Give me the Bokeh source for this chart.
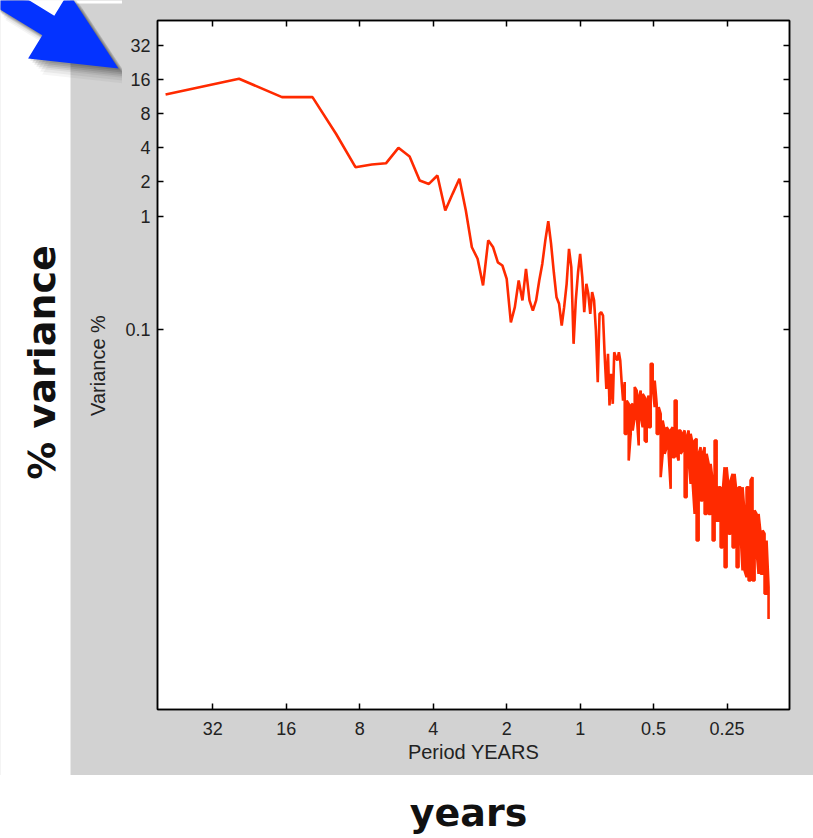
import math
from bokeh.plotting import figure
from bokeh.layouts import row, column
from bokeh.models import Range1d, FixedTicker, LogAxis
from bokeh.core.properties import value
from bokeh.embed import file_html
from bokeh.resources import INLINE

# ---------------- data ----------------
period_low = [50, 25, 16.667, 12.5, 10, 8.333, 7.143, 6.25, 5.556, 5,
              4.545, 4.167, 3.846, 3.571, 3.333, 3.125, 2.941, 2.778, 2.632, 2.5,
              2.381, 2.273, 2.174, 2.083, 2, 1.923, 1.852, 1.786, 1.724, 1.667,
              1.613, 1.5625, 1.515, 1.471, 1.429, 1.389, 1.351, 1.316, 1.282, 1.25,
              1.220, 1.190, 1.163, 1.136, 1.111, 1.087, 1.064, 1.042, 1.020, 1.0,
              0.980, 0.962, 0.943, 0.926, 0.909, 0.893, 0.877, 0.862, 0.847, 0.833,
              0.820, 0.806, 0.794, 0.781, 0.769, 0.758, 0.746, 0.735, 0.725, 0.714,
              0.704, 0.694, 0.685, 0.676, 0.667]
variance_low = [11.8, 16.3, 11.2, 11.2, 5.3, 2.7, 2.85, 2.92, 4.0, 3.35,
                2.06, 1.92, 2.28, 1.12, 1.57, 2.13, 1.12, 0.53, 0.42, 0.244,
                0.61, 0.53, 0.39, 0.366, 0.279, 0.115, 0.157, 0.27, 0.18, 0.342,
                0.18, 0.146, 0.18, 0.27, 0.38, 0.61, 0.90, 0.57, 0.319, 0.192,
                0.168, 0.108, 0.157, 0.252, 0.513, 0.353, 0.0745, 0.18, 0.319, 0.464,
                0.288, 0.142, 0.252, 0.206, 0.137, 0.213, 0.18, 0.0977, 0.0341, 0.137,
                0.142, 0.132, 0.0608, 0.0298, 0.0608, 0.0213, 0.0405, 0.022, 0.0628, 0.0567,
                0.053, 0.0628, 0.053, 0.0341, 0.0235]

period_hf = [0.6567, 0.6444, 0.6324, 0.6206, 0.6090, 0.5976, 0.5865, 0.5755, 0.5648, 0.5542,
             0.5439, 0.5337, 0.5238, 0.5140, 0.5044, 0.4949, 0.4857, 0.4766, 0.4677, 0.4590,
             0.4504, 0.4420, 0.4338, 0.4257, 0.4177, 0.4099, 0.4023, 0.3948, 0.3874, 0.3802,
             0.3730, 0.3661, 0.3592, 0.3525, 0.3460, 0.3395, 0.3332, 0.3269, 0.3208, 0.3148,
             0.3090, 0.3032, 0.2975, 0.2920, 0.2865, 0.2812, 0.2759, 0.2708, 0.2657, 0.2608,
             0.2559, 0.2511, 0.2464, 0.2418, 0.2373, 0.2329, 0.2285, 0.2243, 0.2201, 0.2160,
             0.2119, 0.2080, 0.2041, 0.2003, 0.1966, 0.1928, 0.1893, 0.1857, 0.1822, 0.1788,
             0.1755, 0.1722, 0.1690]
variance_hf_hi = [0.0342, 0.0235, 0.0220, 0.0213, 0.0220, 0.0309, 0.0288, 0.0252, 0.0288, 0.0269,
                  0.0252, 0.0235, 0.0260, 0.0496, 0.0496, 0.0353, 0.0220, 0.0206, 0.0179, 0.0157,
                  0.0128, 0.0137, 0.0128, 0.0128, 0.0137, 0.0235, 0.0235, 0.0128, 0.0128, 0.01195,
                  0.0128, 0.01117, 0.0128, 0.01195, 0.00975, 0.01044, 0.0108, 0.00796, 0.00912, 0.00796,
                  0.00912, 0.00796, 0.00650, 0.00650, 0.00463, 0.01044, 0.01044, 0.00404, 0.00404, 0.00353,
                  0.00607, 0.00607, 0.00404, 0.00463, 0.00530, 0.00530, 0.00353, 0.00404, 0.00404, 0.00404,
                  0.00235, 0.00404, 0.00404, 0.00463, 0.00495, 0.00252, 0.00235, 0.00235, 0.00157, 0.00168,
                  0.00157, 0.00137, 0.000530]
variance_hf_lo = [0.01195, 0.01195, 0.00695, 0.01195, 0.0128, 0.0168, 0.0179, 0.00943, 0.0168, 0.0137,
                  0.01044, 0.01009, 0.0137, 0.0137, 0.0309, 0.0206, 0.01195, 0.01195, 0.00495, 0.00796,
                  0.00796, 0.00912, 0.00796, 0.00391, 0.00744, 0.00744, 0.00796, 0.00695, 0.00796, 0.00852,
                  0.00330, 0.00330, 0.00695, 0.00433, 0.00447, 0.00235, 0.00137, 0.00137, 0.00308, 0.00308,
                  0.00235, 0.00235, 0.00235, 0.00235, 0.00137, 0.00137, 0.00205, 0.00205, 0.00119, 0.00119,
                  0.000796, 0.000796, 0.00157, 0.00157, 0.00119, 0.00119, 0.000796, 0.000796, 0.00157, 0.000743,
                  0.000743, 0.000649, 0.000607, 0.000607, 0.000607, 0.000607, 0.00112, 0.000695, 0.000695, 0.000695,
                  0.000463, 0.000463, 0.000278]

x_ticks = [32, 16, 8, 4, 2, 1, 0.5, 0.25]
x_tick_labels = ["32", "16", "8", "4", "2", "1", "0.5", "0.25"]
y_ticks = [0.1, 1, 2, 4, 8, 16, 32]
y_tick_labels = ["0.1", "1", "2", "4", "8", "16", "32"]

xs = list(period_low)
ys = list(variance_low)
for i, (pp, hi, lo) in enumerate(zip(period_hf, variance_hf_hi, variance_hf_lo)):
    xs += [pp, pp]
    ys += [hi, lo] if i % 2 == 0 else [lo, hi]

GREY = "#d2d2d2"
TICK_FONT = "Liberation Sans"
TOTAL_W, PANEL_H, BOTTOM_H = 813, 775, 63
LEFT_W = 122


def no_frame_align(fig):
    if "frame_align" in fig.properties():
        fig.frame_align = False


# ---------------- main plot ----------------
p = figure(width=TOTAL_W - LEFT_W, height=PANEL_H, x_axis_type="log", y_axis_type="log",
           x_range=Range1d(53.96, 0.1387), y_range=Range1d(4.41e-5, 53.2),
           output_backend="svg", toolbar_location=None,
           min_border_left=34, min_border_right=24,
           min_border_top=20, min_border_bottom=66)
no_frame_align(p)
p.border_fill_color = GREY
p.background_fill_color = "white"
p.outline_line_color = "black"
p.outline_line_width = 1.5
p.grid.visible = False


def style_axis(ax, ticks, labels, show_labels=True):
    ax.ticker = FixedTicker(ticks=ticks, minor_ticks=[])
    ax.major_tick_in = 6
    ax.major_tick_out = 0
    ax.minor_tick_in = 0
    ax.minor_tick_out = 0
    ax.axis_line_color = "black"
    ax.axis_line_width = 1.5
    ax.major_tick_line_color = "black"
    ax.major_tick_line_width = 1.5
    ax.major_label_text_font = TICK_FONT
    ax.major_label_text_color = "#222222"
    if show_labels:
        ax.major_label_overrides = {t: l for t, l in zip(ticks, labels)}
        ax.major_label_text_font_size = "18px"
    else:
        ax.major_label_overrides = {t: "" for t in ticks}
        ax.major_label_text_font_size = "0px"
        ax.major_label_standoff = 0


xa = p.xaxis[0]
ya = p.yaxis[0]
style_axis(xa, x_ticks, x_tick_labels)
style_axis(ya, y_ticks, y_tick_labels)
xa.major_label_standoff = 12
ya.major_label_standoff = 7
xa.axis_label = "Period YEARS"
xa.axis_label_text_font = TICK_FONT
xa.axis_label_text_font_style = "normal"
xa.axis_label_text_font_size = "20px"
xa.axis_label_text_color = "#222222"
xa.axis_label_standoff = 3

top_ax = LogAxis()
style_axis(top_ax, x_ticks, x_tick_labels, show_labels=False)
p.add_layout(top_ax, "above")
right_ax = LogAxis()
style_axis(right_ax, y_ticks, y_tick_labels, show_labels=False)
p.add_layout(right_ax, "right")

p.line(xs, ys, line_color="#ff2a00", line_width=2.6)

# ---------------- left strip: big label, y-axis title, arrow ----------------
L = figure(width=LEFT_W, height=PANEL_H, x_range=Range1d(0, LEFT_W), y_range=Range1d(PANEL_H, 0),
           output_backend="svg", toolbar_location=None,
           x_axis_location=None, y_axis_location=None,
           min_border_left=0, min_border_right=0, min_border_top=0, min_border_bottom=0)
no_frame_align(L)
L.border_fill_color = GREY
L.background_fill_color = GREY
L.outline_line_color = None
L.grid.visible = False
# white surroundings of the grey panel
L.quad(left=[-2, -2], right=[70, LEFT_W + 2], top=[-2, -2], bottom=[PANEL_H + 2, 3],
       fill_color="white", line_color=None)

L.text(x=[97], y=[365], text=["Variance %"], angle=math.pi / 2,
       text_align="center", text_baseline="middle",
       text_font=value(TICK_FONT), text_font_size="20px", text_color="#222222")
L.text(x=[41], y=[362], text=["% variance"], angle=math.pi / 2,
       text_align="center", text_baseline="alphabetic",
       text_font=value("DejaVu Sans"), text_font_style="bold",
       text_font_size="38px", text_color="#111111")

arrow_x = [118, 27.6, 41.8, -9.2, 2.8, 53.8, 68]
arrow_y = [68, 58, 34.8, 3.6, -16, 15.2, -8]
for dx, dy, a in [(14, 16, 0.04), (12, 13, 0.05), (10, 10, 0.06), (8, 8, 0.08),
                  (6, 6, 0.09), (4, 4, 0.10), (2, 2, 0.10)]:
    L.patch([x + dx for x in arrow_x], [y + dy for y in arrow_y],
            fill_color="black", fill_alpha=a, line_color=None)
L.patch(arrow_x, arrow_y, fill_color="#0433ff", line_color=None)

# ---------------- bottom strip: "years" ----------------
B = figure(width=TOTAL_W, height=BOTTOM_H, x_range=Range1d(0, TOTAL_W), y_range=Range1d(BOTTOM_H, 0),
           output_backend="svg", toolbar_location=None,
           x_axis_location=None, y_axis_location=None,
           min_border_left=0, min_border_right=0, min_border_top=0, min_border_bottom=0)
no_frame_align(B)
B.border_fill_color = "white"
B.background_fill_color = "white"
B.outline_line_color = None
B.grid.visible = False
B.text(x=[468], y=[37], text=["years"], text_align="center", text_baseline="alphabetic",
       text_font=value("DejaVu Sans"), text_font_style="bold",
       text_font_size="38px", text_color="#111111")

layout = column(
    row(L, p, spacing=0,
        styles={"background": "linear-gradient(to right, #ffffff 0px, #ffffff 70px, %s 70px, %s 100%%)" % (GREY, GREY)}),
    B, spacing=0)
open("out.html", "w").write(file_html(layout, INLINE))
